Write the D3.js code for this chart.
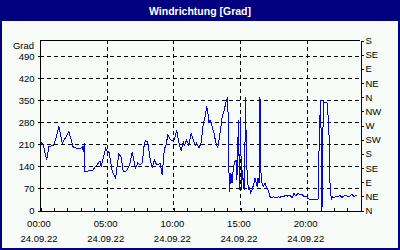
<!DOCTYPE html>
<html>
<head>
<meta charset="utf-8">
<script src="https://cdn.jsdelivr.net/npm/d3@7"></script>
<style>
  body { margin: 0; background: #fff; }
  svg { display: block; font-family: "Liberation Sans", Arial, sans-serif; }
</style>
</head>
<body>
<svg width="400" height="250"></svg>
<script>
const title = "Windrichtung [Grad]"
const unitLabel = "Grad"
const leftTicks = [0, 70, 140, 210, 280, 350, 420, 490]
const compassTicks = [0, 45, 90, 135, 180, 225, 270, 315, 360, 405, 450, 495, 540]
const compassLabels = ["N", "NE", "E", "SE", "S", "SW", "W", "NW", "N", "NE", "E", "SE", "S"]
const timeLabels = ["00:00", "05:00", "10:00", "15:00", "20:00"]
const dateLabel = "24.09.22"

// Messzeitpunkte und Windrichtung in Grad
const times = [
  "00:00","00:15","00:30","00:40","01:00","01:10","01:25","01:40","02:10","02:30",
  "02:40","03:00","03:10","03:15","03:20","03:22","03:35","03:55","04:10","04:30",
  "04:35","04:50","04:55","05:05","05:10","05:25","05:40","05:45","05:55","06:05",
  "06:15","06:30","06:45","06:55","07:05","07:10","07:20","07:30","07:40","07:50",
  "07:55","08:05","08:15","08:25","08:35","08:40","08:50","09:00","09:10","09:20",
  "09:25","09:35","09:45","09:55","10:05","10:15","10:25","10:35","10:45","10:50",
  "11:00","11:10","11:20","11:30","11:40","11:45","11:55","12:05","12:15","12:25",
  "12:30","12:35","12:40","12:45","12:55","13:05","13:10","13:20","13:30","13:40",
  "13:50","13:55","14:05","14:12","14:19","14:24","14:30","14:37","14:42","14:46",
  "14:53","14:58","15:02","15:07","15:11","15:16","15:20","15:25","15:29","15:34",
  "15:38","15:43","15:47","15:54","16:03","16:08","16:17","16:21","16:26","16:30",
  "16:35","16:44","16:53","16:59","17:06","17:15","17:24","17:31","17:38","17:47",
  "17:51","18:00","18:09","18:18","18:27","18:36","18:45","18:54","19:03","19:12",
  "19:21","19:30","19:39","19:48","19:57","20:06","20:15","20:51","20:53","20:58",
  "21:03","21:09","21:15","21:32","21:40","21:44","21:51","21:55","22:03","22:12",
  "22:21","22:30","22:39","22:48","22:57","23:06","23:15","23:24","23:33","23:42",
  "23:48"
]
const direction = [
  219,206,159,201,206,222,265,212,249,198,
  197,194,200,185,212,122,124,124,138,156,
  137,181,196,181,185,122,101,127,178,168,
  122,124,148,185,149,133,149,143,150,214,
  219,216,165,133,159,149,143,150,111,197,
  197,238,225,219,225,254,213,190,217,206,
  222,206,244,222,206,213,197,213,275,302,
  330,312,280,286,265,238,217,197,244,296,
  318,339,360,58,117,85,133,153,159,95,
  286,64,286,64,127,74,64,360,159,95,
  64,74,54,64,85,102,74,102,85,360,
  95,74,85,70,64,42,38,42,38,40,
  42,40,44,44,46,44,48,38,53,44,
  54,48,51,42,44,37,32,32,106,265,
  349,6,344,340,264,95,32,42,38,44,
  42,46,40,44,48,42,44,50,42,46,
  45
]

const svg = d3.select("svg")
const W = +svg.attr("width"), H = +svg.attr("height")
const margin = {top: 40, right: 40, bottom: 40, left: 40}
const navy = "#000080"

svg.append("rect").attr("width", W).attr("height", H).attr("fill", navy)
svg.append("rect").attr("x", 2).attr("y", 21).attr("width", W - 4).attr("height", H - 23)
    .attr("fill", "#f8fcf8")

svg.append("text")
    .attr("x", W / 2).attr("y", 14.5)
    .attr("text-anchor", "middle")
    .attr("fill", "#fff")
    .style("font-weight", "bold")
    .style("font-size", "10.5px")
    .text(title)

const parse = d3.timeParse("%H:%M")
const day0 = parse("00:00")
const data = times.map((t, i) => ({t: parse(t), v: direction[i]}))

const x = d3.scaleTime()
    .domain([day0, d3.timeDay.offset(day0, 1)])
    .range([margin.left, W - margin.right])
const y = d3.scaleLinear()
    .domain([0, 540])
    .range([H - margin.bottom, margin.top])

const g = svg.append("g").style("shape-rendering", "crispEdges")

// Gitterlinien
g.selectAll(".hgrid").data(leftTicks.filter(d => d > 0)).join("line")
    .attr("x1", x.range()[0]).attr("x2", x.range()[1])
    .attr("y1", d => Math.round(y(d)) + 0.5).attr("y2", d => Math.round(y(d)) + 0.5)
    .attr("stroke", "#000").attr("stroke-dasharray", "4,3")

const labelTimes = timeLabels.map(parse)
g.selectAll(".vgrid").data(labelTimes.slice(1)).join("line")
    .attr("x1", d => Math.round(x(d)) + 0.5).attr("x2", d => Math.round(x(d)) + 0.5)
    .attr("y1", y.range()[1]).attr("y2", y.range()[0])
    .attr("stroke", "#000").attr("stroke-dasharray", "4,3")

// Rahmen oben
g.append("line")
    .attr("x1", x.range()[0]).attr("x2", x.range()[1])
    .attr("y1", margin.top + 0.5).attr("y2", margin.top + 0.5)
    .attr("stroke", "#000")

// Achsen
const leftAxis = g.append("g")
    .attr("transform", `translate(${margin.left + 0.5},0.5)`)
    .call(d3.axisLeft(y).tickValues(leftTicks).tickSize(3).tickSizeOuter(0))
leftAxis.select(".domain").attr("d", `M0,${y.range()[1]}V${y.range()[0]}`)

const rightAxis = g.append("g")
    .attr("transform", `translate(${W - margin.right + 0.5},0.5)`)
    .call(d3.axisRight(y).tickValues(compassTicks).tickSize(3).tickSizeOuter(0)
        .tickFormat((d, i) => compassLabels[i]))

const bottomAxis = g.append("g")
    .attr("transform", `translate(0.5,${H - margin.bottom + 0.5})`)
    .call(d3.axisBottom(x).ticks(d3.timeHour.every(1)).tickSize(-3).tickSizeOuter(0).tickFormat(""))

svg.selectAll(".tick text").attr("fill", "#000").style("font-size", "9.5px")
leftAxis.selectAll(".tick text").attr("x", -6)
rightAxis.selectAll(".tick text").attr("x", 5)
svg.selectAll(".domain, .tick line").attr("stroke", "#000")

svg.append("text")
    .attr("x", margin.left - 6).attr("y", 48.5)
    .attr("text-anchor", "end")
    .style("font-size", "9.5px")
    .text(unitLabel)

const xl = svg.append("g").selectAll("g").data(labelTimes).join("g")
    .attr("transform", d => `translate(${x(d) - 1},0)`)
xl.append("text").attr("y", 227).attr("text-anchor", "middle").style("font-size", "9.5px")
    .text((d, i) => timeLabels[i])
xl.append("text").attr("y", 242).attr("text-anchor", "middle").style("font-size", "9.5px")
    .text(dateLabel)

// Messkurve
const line = d3.line().x(d => x(d.t)).y(d => y(d.v))
svg.append("path")
    .datum(data)
    .attr("d", line)
    .attr("fill", "none")
    .attr("stroke", "#0000ff")
    .attr("stroke-width", 1)
    .style("shape-rendering", "crispEdges")
</script>
</body>
</html>
